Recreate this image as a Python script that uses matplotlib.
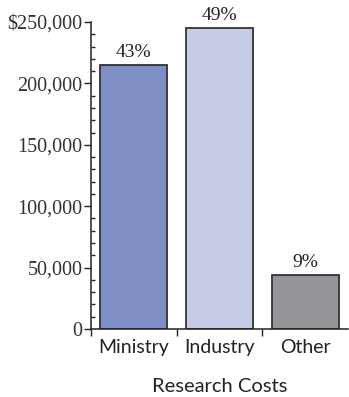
import numpy as np
import matplotlib
matplotlib.use('Agg')
import matplotlib.pyplot as plt
from matplotlib.ticker import MultipleLocator, FuncFormatter

categories = ['Ministry', 'Industry', 'Other']
costs = [215000, 245000, 44000]
shares = ['43%', '49%', '9%']
colors = ['#7f8fc5', '#c5cae5', '#939598']

serif = ['Liberation Serif', 'DejaVu Serif']
sans = ['Lato', 'DejaVu Sans']

fig = plt.figure(figsize=(3.49, 3.97), dpi=100)
ax = fig.add_axes([91/349, 68/397, 257/349, 307/397])

x = np.arange(len(categories))
bars = ax.bar(x, costs, width=0.78, color=colors, edgecolor='#333333', linewidth=1.3)

for xi, v, s in zip(x, costs, shares):
    ax.text(xi, v + 3500, s, ha='center', va='bottom', family=serif, fontsize=14, color='#222222')

ax.set_xlim(-0.5, 2.5)
ax.set_ylim(0, 250000)

ax.spines['top'].set_visible(False)
ax.spines['right'].set_visible(False)
for sp in ['left', 'bottom']:
    ax.spines[sp].set_color('#222222')
    ax.spines[sp].set_linewidth(1.1)

ax.yaxis.set_major_locator(MultipleLocator(50000))
ax.yaxis.set_minor_locator(MultipleLocator(10000))
ax.yaxis.set_major_formatter(FuncFormatter(lambda v, p: '$250,000' if v == 250000 else '{:,.0f}'.format(v)))
ax.tick_params(axis='y', which='major', direction='out', length=5, width=1, color='#222222', pad=1, labelsize=14.5)
ax.tick_params(axis='y', which='minor', direction='in', length=3, width=1, color='#222222')
for lab in ax.get_yticklabels():
    lab.set_family(serif)
    lab.set_color('#333333')

ax.set_xticks([-0.5, 0.5, 1.5])
ax.set_xticklabels([])
ax.set_xticks(x, minor=True)
ax.set_xticklabels(categories, minor=True, family=sans, fontsize=14, color='#222222')
ax.tick_params(axis='x', which='major', direction='out', length=5, width=1, color='#222222')
ax.tick_params(axis='x', which='minor', length=0, pad=7)

ax.set_xlabel('Research Costs', family=sans, fontsize=14.5, color='#222222', labelpad=16)

plt.savefig('out.png', dpi=100)
plt.close()
